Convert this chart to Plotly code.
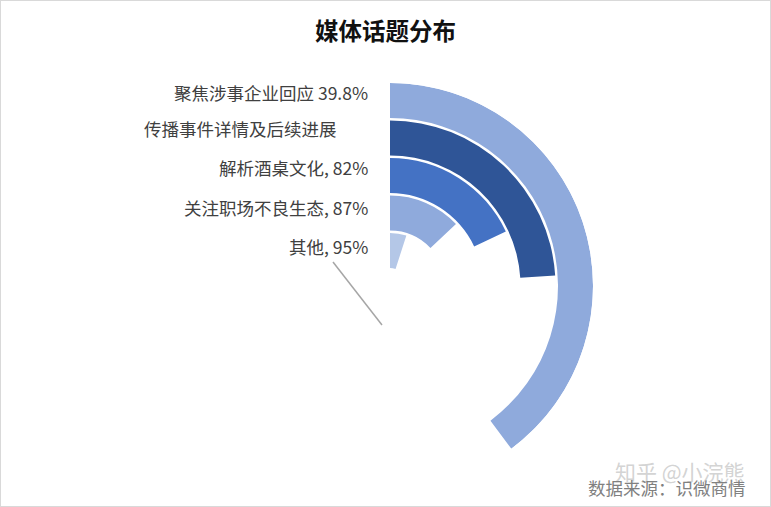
import plotly.graph_objects as go

# ---- data ----
categories = ["聚焦涉事企业回应", "传播事件详情及后续进展", "解析酒桌文化", "关注职场不良生态", "其他"]
shares = [39.8, 24, 18, 13, 5]          # visible share of each ring (%)
label_texts = ["聚焦涉事企业回应 39.8%", "传播事件详情及后续进展", "解析酒桌文化, 82%",
               "关注职场不良生态, 87%", "其他, 95%"]
colors = ["#8FAADC", "#2F5597", "#4472C4", "#8FAADC", "#B4C7E7"]

# ---- geometry / layout ----
W, H = 771, 507
CX, CY = 390, 286
R_OUT = 203
HOLE = 18
STEP = 37.5
THICK = 35
n = len(categories)

fig = go.Figure()
for i, (cat, v, col) in enumerate(zip(categories, shares, colors)):
    k = n - 1 - i  # 0 = innermost ring
    base = HOLE + k * STEP
    fig.add_trace(go.Barpolar(
        r=[THICK], base=[base], theta=[v * 3.6 / 2], width=[v * 3.6],
        marker=dict(color=col, line=dict(width=0)), name=cat,
        hoverinfo="name", showlegend=False,
    ))

annotations = []
label_right = 370
label_offsets = [-8, -9, -8, -6, -4]
for i, txt in enumerate(label_texts):
    k = n - 1 - i
    mid = HOLE + k * STEP + THICK / 2
    ypx = CY - mid + label_offsets[i]
    xr = label_right if i != 1 else 339
    annotations.append(dict(
        x=xr / W, y=1 - ypx / H, xref="paper", yref="paper",
        text=txt, showarrow=False, xanchor="right", yanchor="middle",
        font=dict(family="Noto Sans CJK SC", size=17.5, color="#404040"),
    ))

annotations.append(dict(
    x=385 / W, y=1 - 30 / H, xref="paper", yref="paper", text="<b>媒体话题分布</b>",
    showarrow=False, xanchor="center", yanchor="middle",
    font=dict(family="Noto Sans CJK SC", size=23.5, color="#111111"),
))
annotations.append(dict(
    x=680 / W, y=1 - 471 / H, xref="paper", yref="paper", text="知乎 @小浣熊",
    showarrow=False, xanchor="center", yanchor="middle",
    font=dict(family="Noto Sans CJK SC", size=21, color="rgba(200,200,200,0.8)"),
))
annotations.append(dict(
    x=748 / W, y=1 - 487 / H, xref="paper", yref="paper", text="数据来源：识微商情",
    showarrow=False, xanchor="right", yanchor="middle",
    font=dict(family="Noto Sans CJK SC", size=17.5, color="#808080"),
))

shapes = [
    dict(type="line", xref="paper", yref="paper",
         x0=333 / W, y0=1 - 262 / H, x1=382 / W, y1=1 - 325 / H,
         line=dict(color="#a6a6a6", width=1.5)),
    dict(type="rect", xref="paper", yref="paper", x0=0, y0=0, x1=1, y1=1,
         line=dict(color="#d9d9d9", width=2)),
]

fig.update_layout(
    width=W, height=H, margin=dict(l=0, r=0, t=0, b=0),
    paper_bgcolor="white", plot_bgcolor="white",
    polar=dict(
        domain=dict(x=[(CX - R_OUT) / W, (CX + R_OUT) / W],
                    y=[1 - (CY + R_OUT) / H, 1 - (CY - R_OUT) / H]),
        bgcolor="white",
        radialaxis=dict(range=[0, R_OUT], visible=False),
        angularaxis=dict(rotation=90, direction="clockwise", visible=False),
        bargap=0,
    ),
    annotations=annotations, shapes=shapes,
)

fig.write_html("out.html", config={"displayModeBar": False},
               post_script="document.body.style.margin='0';")
